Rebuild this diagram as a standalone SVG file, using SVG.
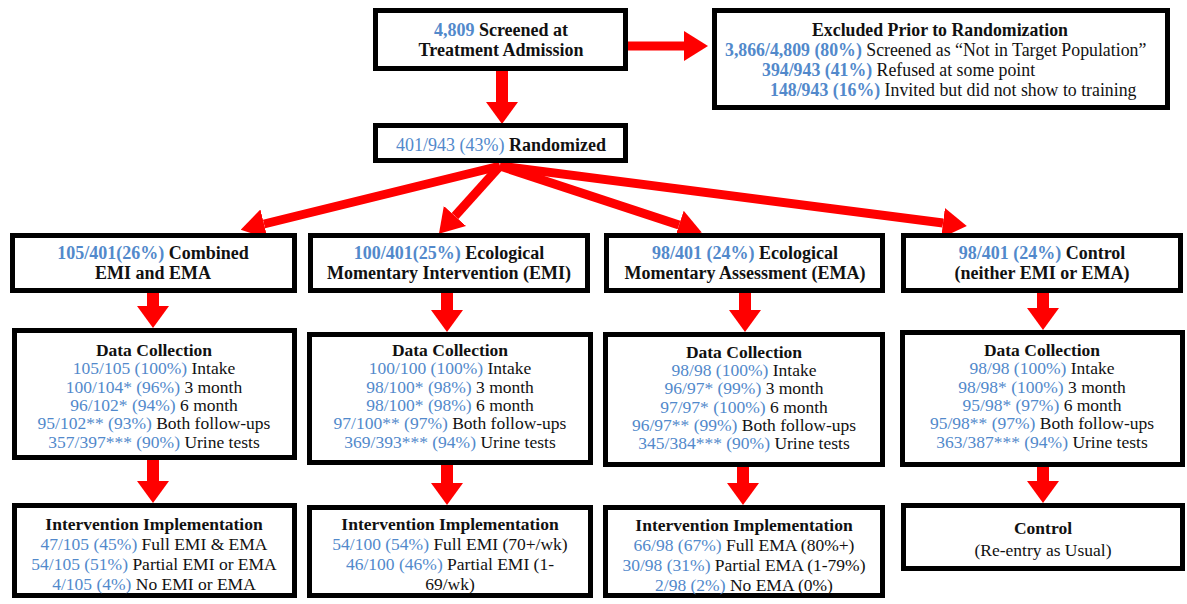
<svg xmlns="http://www.w3.org/2000/svg" width="1187" height="604" viewBox="0 0 1187 604">
<defs>
<marker id="ah" markerUnits="userSpaceOnUse" markerWidth="24" markerHeight="30" refX="0" refY="15" orient="auto" viewBox="0 0 24 30">
<path d="M0,0 L24,15 L0,30 Z" fill="#ff0000"/>
</marker>
<marker id="ahv" markerUnits="userSpaceOnUse" markerWidth="22" markerHeight="32" refX="0" refY="16" orient="auto" viewBox="0 0 22 32">
<path d="M0,0 L22,16 L0,32 Z" fill="#ff0000"/>
</marker>
<style>
.box{fill:#fff;stroke:#000;stroke-width:5}
text{font-family:'Liberation Serif','Times New Roman',serif;font-size:17.5px;fill:#111;text-anchor:middle}
.b{font-weight:bold}
.t18{font-size:18px}
.t178{font-size:17.8px}
.n{fill:#5289cb}
.fan{stroke:#ff0000;stroke-width:9;fill:none;marker-end:url(#ah)}
.vt{stroke:#ff0000;stroke-width:12;fill:none;marker-end:url(#ahv)}
</style>
</defs>
<rect width="1187" height="604" fill="#fff"/>

<g id="connectors">
<line class="fan" x1="628" y1="46" x2="684" y2="46"/>
<line class="vt" x1="502" y1="71" x2="502" y2="102"/>
<line class="fan" x1="500" y1="166" x2="264" y2="224"/>
<line class="fan" x1="500" y1="166" x2="455" y2="216"/>
<line class="fan" x1="500" y1="166" x2="679" y2="225"/>
<line class="fan" x1="500" y1="166" x2="943" y2="223"/>
<line class="vt" x1="153" y1="292" x2="153" y2="306"/>
<line class="vt" x1="447" y1="292" x2="447" y2="310"/>
<line class="vt" x1="745" y1="292" x2="745" y2="310"/>
<line class="vt" x1="1043" y1="292" x2="1043" y2="308"/>
<line class="vt" x1="153" y1="459" x2="153" y2="481"/>
<line class="vt" x1="447" y1="463" x2="447" y2="483"/>
<line class="vt" x1="743" y1="465" x2="743" y2="483"/>
<line class="vt" x1="1043" y1="465" x2="1043" y2="481"/>
</g>

<g id="screened">
<rect class="box" x="375.5" y="10.5" width="250" height="58"/>
<text x="501" y="36" class="b t18"><tspan class="n">4,809</tspan> Screened at</text>
<text x="501" y="56" class="b t18">Treatment Admission</text>
</g>

<g id="excluded">
<rect class="box" x="714.5" y="10.5" width="453" height="97"/>
<text x="940" y="36" class="b t178">Excluded Prior to Randomization</text>
<text x="725" y="56" class="t178" style="text-anchor:start"><tspan class="n b">3,866/4,809 (80%)</tspan> Screened as “Not in Target Population”</text>
<text x="762" y="76" class="t178" style="text-anchor:start"><tspan class="n b">394/943 (41%)</tspan> Refused at some point</text>
<text x="770" y="96" class="t178" style="text-anchor:start"><tspan class="n b">148/943 (16%)</tspan> Invited but did not show to training</text>
</g>

<g id="randomized">
<rect class="box" x="375.5" y="125.5" width="250" height="35"/>
<text x="501" y="151" class="t18"><tspan class="n">401/943 (43%)</tspan> <tspan class="b">Randomized</tspan></text>
</g>

<g id="group-combined">
<rect class="box" x="12.5" y="235.5" width="282" height="55"/>
<text x="153" y="259" class="b t18"><tspan class="n">105/401(26%)</tspan>  Combined</text>
<text x="153" y="279" class="b t18">EMI and EMA</text>
</g>

<g id="group-emi">
<rect class="box" x="310.5" y="235.5" width="277" height="55"/>
<text x="449" y="259" class="b t18"><tspan class="n">100/401(25%)</tspan> Ecological</text>
<text x="449" y="279" class="b t18">Momentary Intervention (EMI)</text>
</g>

<g id="group-ema">
<rect class="box" x="606.5" y="235.5" width="276" height="55"/>
<text x="745" y="259" class="b t18"><tspan class="n">98/401 (24%)</tspan> Ecological</text>
<text x="745" y="279" class="b t18">Momentary Assessment (EMA)</text>
</g>

<g id="group-control">
<rect class="box" x="903.5" y="235.5" width="277" height="55"/>
<text x="1042" y="259" class="b t18"><tspan class="n">98/401 (24%)</tspan> Control</text>
<text x="1042" y="279" class="b t18">(neither EMI or EMA)</text>
</g>

<g id="data-combined">
<rect class="box" x="14.5" y="330.5" width="280" height="127"/>
<text x="154" y="356" class="b">Data Collection</text>
<text x="154" y="374.3"><tspan class="n">105/105 (100%)</tspan> Intake</text>
<text x="154" y="392.7"><tspan class="n">100/104* (96%)</tspan> 3 month</text>
<text x="154" y="411"><tspan class="n">96/102* (94%)</tspan> 6 month</text>
<text x="154" y="429.3"><tspan class="n">95/102** (93%)</tspan> Both follow-ups</text>
<text x="154" y="447.7"><tspan class="n">357/397*** (90%)</tspan> Urine tests</text>
</g>

<g id="data-emi">
<rect class="box" x="309.5" y="334.5" width="281" height="128"/>
<text x="450" y="356" class="b">Data Collection</text>
<text x="450" y="374.3"><tspan class="n">100/100 (100%)</tspan> Intake</text>
<text x="450" y="392.7"><tspan class="n">98/100* (98%)</tspan> 3 month</text>
<text x="450" y="411"><tspan class="n">98/100* (98%)</tspan> 6 month</text>
<text x="450" y="429.3"><tspan class="n">97/100** (97%)</tspan> Both follow-ups</text>
<text x="450" y="447.7"><tspan class="n">369/393*** (94%)</tspan> Urine tests</text>
</g>

<g id="data-ema">
<rect class="box" x="605.5" y="334.5" width="277" height="130"/>
<text x="744" y="357.5" class="b">Data Collection</text>
<text x="744" y="376"><tspan class="n">98/98 (100%)</tspan> Intake</text>
<text x="744" y="394.3"><tspan class="n">96/97* (99%)</tspan> 3 month</text>
<text x="744" y="412.5"><tspan class="n">97/97* (100%)</tspan> 6 month</text>
<text x="744" y="430.8"><tspan class="n">96/97** (99%)</tspan> Both follow-ups</text>
<text x="744" y="449"><tspan class="n">345/384*** (90%)</tspan> Urine tests</text>
</g>

<g id="data-control">
<rect class="box" x="902.5" y="332.5" width="280" height="132"/>
<text x="1042" y="356" class="b">Data Collection</text>
<text x="1042" y="374.3"><tspan class="n">98/98 (100%)</tspan> Intake</text>
<text x="1042" y="392.7"><tspan class="n">98/98* (100%)</tspan> 3 month</text>
<text x="1042" y="411"><tspan class="n">95/98* (97%)</tspan> 6 month</text>
<text x="1042" y="429.3"><tspan class="n">95/98** (97%)</tspan> Both follow-ups</text>
<text x="1042" y="447.7"><tspan class="n">363/387*** (94%)</tspan> Urine tests</text>
</g>

<g id="impl-combined">
<rect class="box" x="14.5" y="505.5" width="280" height="90"/>
<text x="154" y="530" class="b">Intervention Implementation</text>
<text x="154" y="550"><tspan class="n">47/105 (45%)</tspan> Full EMI &amp; EMA</text>
<text x="154" y="570"><tspan class="n">54/105 (51%)</tspan> Partial EMI or EMA</text>
<text x="154" y="590"><tspan class="n">4/105 (4%)</tspan> No EMI or EMA</text>
</g>

<g id="impl-emi">
<rect class="box" x="309.5" y="507.5" width="281" height="88"/>
<text x="450" y="530" class="b">Intervention Implementation</text>
<text x="450" y="550"><tspan class="n">54/100 (54%)</tspan> Full EMI (70+/wk)</text>
<text x="450" y="570"><tspan class="n">46/100 (46%)</tspan> Partial EMI (1-</text>
<text x="450" y="590">69/wk)</text>
</g>

<g id="impl-ema">
<rect class="box" x="605.5" y="507.5" width="277" height="88"/>
<text x="744" y="531" class="b">Intervention Implementation</text>
<text x="744" y="551"><tspan class="n">66/98 (67%)</tspan> Full EMA (80%+)</text>
<text x="744" y="571"><tspan class="n">30/98 (31%)</tspan> Partial EMA (1-79%)</text>
<text x="744" y="591"><tspan class="n">2/98 (2%)</tspan> No EMA (0%)</text>
</g>

<g id="impl-control">
<rect class="box" x="903.5" y="505.5" width="279" height="63"/>
<text x="1043" y="534" class="b">Control</text>
<text x="1043" y="556">(Re-entry as Usual)</text>
</g>
</svg>
